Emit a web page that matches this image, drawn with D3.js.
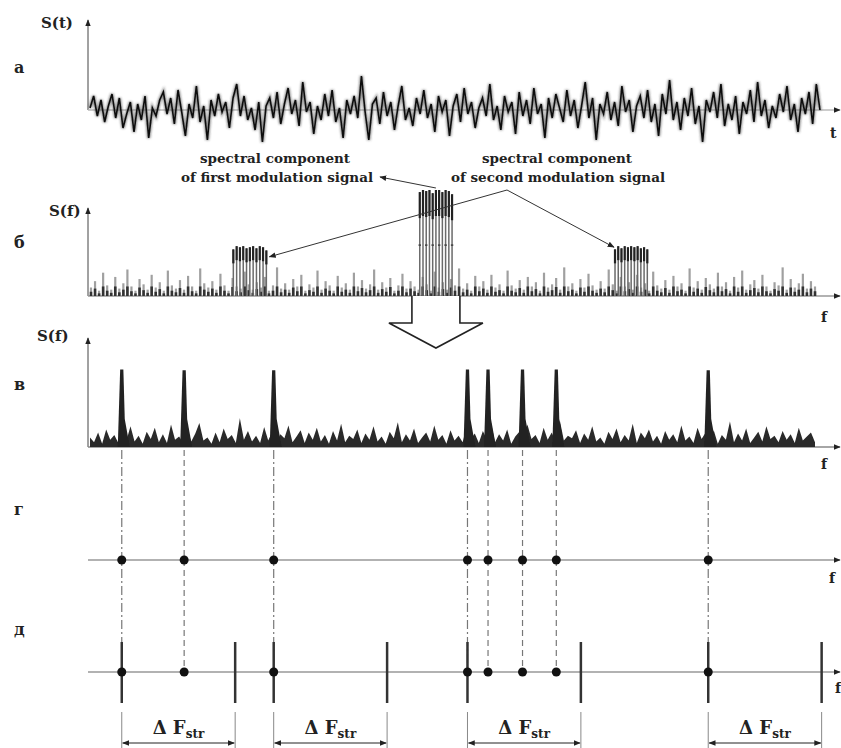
<!DOCTYPE html>
<meta charset="utf-8">
<style>
body { margin: 0; background: #fff; }
text { font-family: "DejaVu Serif", "Liberation Serif", serif; font-weight: bold; fill: #222; }
</style>
<body>
<script src="https://cdn.jsdelivr.net/npm/d3@7"></script>
<script>

// time signal S(t), panel а (px-ish units around zero)
var timeSignal = [
 2,14,-6,10,-12,4,16,-8,12,-18,-4,8,-22,6,-10,14,-28,2,-6,10,
 18,-4,12,-14,20,-2,-26,6,-8,24,-12,4,-30,10,-6,16,-2,8,-18,12,
 26,-6,14,-10,2,-20,8,-32,4,12,-8,18,-14,6,22,-4,10,-16,28,-2,
 8,-24,4,-10,16,-6,20,-12,2,-28,10,-4,14,-8,34,-2,-30,6,12,-14,
 18,-6,8,-20,4,24,-10,2,-16,12,-4,20,-8,6,-22,14,-2,10,-26,4,
 16,-12,22,-4,8,-18,2,12,-6,26,-10,4,-20,14,-2,8,-24,18,-6,10,
 -14,22,-4,6,-28,12,-8,16,2,-12,20,-6,10,-18,4,28,-8,12,-30,6,
 -4,18,-10,8,-16,24,-2,10,-22,4,14,-8,20,-12,6,-26,16,-4,30,-10,
 8,-20,12,-6,22,-14,4,-32,10,-2,18,-8,26,-16,6,-10,14,-24,8,-4,
 20,-12,28,-6,10,-18,4,-8,16,-2,24,-10,6,-22,12,-4,18,-14,26,0
];

// background spectrum, panel б
var noiseB = [
 8,14,5,22,10,6,18,7,12,25,9,5,16,11,6,20,8,13,5,24,
 10,7,15,6,19,9,5,26,12,8,14,6,21,10,5,17,9,7,23,11,
 6,13,8,18,5,10,27,7,12,6,16,9,20,5,11,8,24,6,14,10,
 5,19,8,12,6,22,9,15,7,11,25,6,13,8,17,5,10,21,7,14,
 9,6,18,11,5,23,8,13,6,16,10,26,7,12,5,19,9,14,6,20,
 8,11,5,24,10,7,15,6,18,9,13,5,22,8,11,17,6,27,9,12,
 5,16,8,21,10,6,14,7,25,11,5,18,9,13,6,20,8,12,5,23,
 10,7,15,6,19,9,12,5,26,8,14,6,17,11,7,22,9,13,5,18,
 8,24,6,11,15,7,20,9,5,13,10,27,6,16,8,12,21,7,14,9
];

// modulation signal components, panel б
var clusterStart = [19.8, 45.2, 71.8];
var clusterEnd   = [24.3, 49.6, 76.2];
var clusterBars = [
 [44,47,46,47,45,46,47,45,47,46,43],
 [98,100,99,100,97,100,100,98,100,99,96],
 [44,47,45,47,46,47,46,47,45,46,44]
];

// spectrum after processing, panel в
var noiseV = [
 12,6,18,4,22,9,15,5,20,8,26,7,14,4,19,10,24,6,16,5,
 28,9,13,5,21,7,17,30,8,12,4,18,6,23,10,15,5,36,9,20,
 7,14,5,25,8,19,4,16,11,27,6,13,21,5,18,9,24,7,15,4,
 20,8,29,6,14,10,22,5,17,9,26,7,13,4,19,11,31,6,16,8,
 23,5,12,18,7,27,9,15,4,21,8,14,6,25,10,17,5,20,9,30,
 6,16,8,22,4,13,19,7,28,10,15,5,24,9,18,6,33,8,14,11,
 21,5,17,9,26,7,12,4,19,10,23,6,15,8,29,5,18,11,22,7,
 14,4,20,9,16,6,27,8,13,5,24,10,18,7,21,4,15,9,32,6,
 17,8,23,5,12,19,7,26,10,14,6,20,9,16,5,24,8,13,18,6
];
var peakF = [4.6, 13.1, 25.3, 51.7, 54.5, 59.2, 63.8, 84.5];
var peakH = [97, 96, 96, 97, 97, 97, 97, 96];

// structure windows, panel д
var windowStart = [4.6, 25.3, 51.7, 84.5];
var windowWidth = 15.45;

var panelLetters = ["а", "б", "в", "г", "д"];

var width = 841, height = 748;

var svg = d3.select("body").append("svg")
    .attr("width", width)
    .attr("height", height);

svg.append("rect").attr("width", width).attr("height", height).attr("fill", "#fff");

var defs = svg.append("defs");
defs.append("marker")
    .attr("id", "arr")
    .attr("viewBox", "0 0 10 10")
    .attr("refX", 9).attr("refY", 5)
    .attr("markerWidth", 7).attr("markerHeight", 7)
    .attr("markerUnits", "userSpaceOnUse")
    .attr("orient", "auto-start-reverse")
  .append("path").attr("d", "M0,1 L10,5 L0,9 Z").attr("fill", "#222");
defs.append("filter").attr("id", "soft")
  .append("feGaussianBlur").attr("stdDeviation", 0.6);
defs.append("filter").attr("id", "softer")
  .append("feGaussianBlur").attr("stdDeviation", 1.1);

// scales
var xT = d3.scaleLinear().domain([0, timeSignal.length - 1]).range([90, 820]);
var yT = d3.scaleLinear().domain([-35, 35]).range([145, 75]);
var xF = d3.scaleLinear().domain([0, 100]).range([88, 822]);
var xNB = d3.scaleLinear().domain([0, noiseB.length - 1]).range([91, 815]);
var xNV = d3.scaleLinear().domain([0, noiseV.length - 1]).range([90, 815]);
var yB = d3.scaleLinear().domain([0, 100]).range([296, 190]);
var yV = d3.scaleLinear().domain([0, 100]).range([447, 367]);

var baseT = 110, baseB = yB(0), baseV = yV(0), lineG = 560, lineD = 672;

// axes helper
function vAxis(y0, y1) {
  svg.append("line").attr("x1", 88).attr("x2", 88).attr("y1", y0).attr("y2", y1)
    .attr("stroke", "#444").attr("stroke-width", 1).attr("marker-end", "url(#arr)");
}
function hAxis(y, col) {
  svg.append("line").attr("x1", 88).attr("x2", 840).attr("y1", y).attr("y2", y)
    .attr("stroke", col).attr("stroke-width", 1.5).attr("marker-end", "url(#arr)");
}

// ---- panel а ----
vAxis(baseT, 20);
hAxis(baseT, "#bbb");
var tLine = d3.line().x(function(d, i) { return xT(i); }).y(function(d) { return yT(d); });
svg.append("path").datum(timeSignal).attr("d", tLine)
  .attr("fill", "none").attr("stroke", "#444").attr("stroke-width", 3.4).attr("stroke-opacity", 0.6)
  .attr("filter", "url(#softer)");
svg.append("path").datum(timeSignal).attr("d", tLine)
  .attr("fill", "none").attr("stroke", "#111").attr("stroke-width", 1.6).attr("filter", "url(#soft)");
svg.append("text").attr("x", 41).attr("y", 28).style("font-size", "15px").text("S(t)");
svg.append("text").attr("x", 830).attr("y", 138).style("font-size", "14px").text("t");

// ---- panel б ----
vAxis(baseB, 208);
hAxis(baseB, "#999");
var gB = svg.append("g").attr("filter", "url(#soft)");
gB.selectAll(".nb").data(noiseB).enter().append("line")
  .attr("x1", function(d, i) { return xNB(i); }).attr("x2", function(d, i) { return xNB(i); })
  .attr("y1", baseB).attr("y2", function(d) { return yB(d); })
  .attr("stroke", "#a0a0a0").attr("stroke-width", 2.2);
gB.selectAll(".nbd").data(noiseB).enter().append("line")
  .attr("x1", function(d, i) { return xNB(i); }).attr("x2", function(d, i) { return xNB(i); })
  .attr("y1", baseB).attr("y2", function(d) { return yB(Math.min(d * 0.5, 9)); })
  .attr("stroke", "#333").attr("stroke-width", 2.6);

clusterBars.forEach(function(bars, c) {
  var xc = d3.scaleLinear().domain([0, bars.length - 1]).range([xF(clusterStart[c]), xF(clusterEnd[c])]);
  var g = svg.append("g").attr("filter", "url(#soft)");
  g.selectAll(".cb").data(bars).enter().append("line")
    .attr("x1", function(d, i) { return xc(i); }).attr("x2", function(d, i) { return xc(i); })
    .attr("y1", baseB).attr("y2", function(d) { return yB(d); })
    .attr("stroke", "#6a6a6a").attr("stroke-width", 1.5);
  g.selectAll(".cap").data(bars).enter().append("line")
    .attr("x1", function(d, i) { return xc(i); }).attr("x2", function(d, i) { return xc(i); })
    .attr("y1", function(d) { return yB(d) + (c === 1 ? 26 : 14); }).attr("y2", function(d) { return yB(d); })
    .attr("stroke", "#222").attr("stroke-width", 2.2);
  if (c === 1) {
    g.selectAll(".mid").data(bars.filter(function(d, i) { return i % 2 === 0; })).enter().append("line")
      .attr("x1", function(d, i) { return xc(i * 2) - 1.2; }).attr("x2", function(d, i) { return xc(i * 2) + 1.2; })
      .attr("y1", yB(48)).attr("y2", yB(48))
      .attr("stroke", "#444").attr("stroke-width", 1.6);
  }
});

svg.append("text").attr("x", 49).attr("y", 216).style("font-size", "15px").text("S(f)");
svg.append("text").attr("x", 821).attr("y", 322).style("font-size", "14px").text("f");

// annotations
var ann = svg.append("g").style("font-size", "13.5px").attr("text-anchor", "middle");
ann.append("text").attr("x", 275).attr("y", 163).text("spectral component");
ann.append("text").attr("x", 277).attr("y", 182).text("of first modulation signal");
ann.append("text").attr("x", 557).attr("y", 163).text("spectral component");
ann.append("text").attr("x", 558).attr("y", 182).text("of second modulation signal");

var mid = (clusterStart[1] + clusterEnd[1]) / 2;
svg.append("line").attr("x1", xF(mid)).attr("y1", yB(100) - 2).attr("x2", 380).attr("y2", 177)
  .attr("stroke", "#333").attr("stroke-width", 1).attr("marker-end", "url(#arr)");
svg.append("line").attr("x1", 507).attr("y1", 190).attr("x2", xF(clusterEnd[0]) + 3).attr("y2", yB(37))
  .attr("stroke", "#333").attr("stroke-width", 1).attr("marker-end", "url(#arr)");
svg.append("line").attr("x1", 507).attr("y1", 190).attr("x2", xF(clusterStart[2]) - 1).attr("y2", yB(46))
  .attr("stroke", "#333").attr("stroke-width", 1).attr("marker-end", "url(#arr)");

// big outline arrow
var ax = xF(mid);
svg.append("path")
  .attr("d", "M" + (ax - 24) + "," + baseB + " L" + (ax - 24) + ",323 L" + (ax - 47) + ",323 L" + ax + ",348 L" +
    (ax + 47) + ",323 L" + (ax + 24) + ",323 L" + (ax + 24) + "," + baseB)
  .attr("fill", "#fff").attr("stroke", "#222").attr("stroke-width", 1.6);

// ---- panel в ----
vAxis(baseV, 338);
hAxis(baseV, "#888");
var vArea = d3.area().x(function(d, i) { return xNV(i); }).y0(baseV).y1(function(d) { return yV(d); });
var gV = svg.append("g").attr("filter", "url(#soft)");
gV.append("path").datum(noiseV).attr("d", vArea).attr("fill", "#2a2a2a");
gV.selectAll(".pk").data(peakF).enter().append("path")
  .attr("d", function(d, i) {
    var x = xF(d), top = yV(peakH[i]);
    return "M" + (x - 4) + "," + baseV + " L" + (x - 1.6) + "," + top + " L" + (x + 1.6) + "," + top +
      " L" + (x + 3) + "," + yV(35) + " L" + (x + 8) + "," + baseV + " Z";
  })
  .attr("fill", "#222");
svg.append("text").attr("x", 37).attr("y", 341).style("font-size", "15px").text("S(f)");
svg.append("text").attr("x", 821).attr("y", 469).style("font-size", "14px").text("f");

// ---- panels г, д ----
hAxis(lineG, "#999");
hAxis(lineD, "#999");
svg.append("text").attr("x", 829).attr("y", 583).style("font-size", "14px").text("f");
svg.append("text").attr("x", 835).attr("y", 693).style("font-size", "14px").text("f");

var isStart = function(f) { return windowStart.indexOf(f) >= 0; };

svg.append("g").selectAll("line").data(peakF).enter().append("line")
  .attr("x1", function(d) { return xF(d); }).attr("x2", function(d) { return xF(d); })
  .attr("y1", baseV + 3).attr("y2", lineD)
  .attr("stroke", "#777").attr("stroke-width", 1.2)
  .attr("stroke-dasharray", function(d) { return isStart(d) ? "9,3,2,3" : "6,4"; });

// window edges (solid bars)
var edges = [];
windowStart.forEach(function(s) { edges.push(s, s + windowWidth); });
svg.append("g").selectAll("line").data(edges).enter().append("line")
  .attr("x1", function(d) { return xF(d); }).attr("x2", function(d) { return xF(d); })
  .attr("y1", 642).attr("y2", 703)
  .attr("stroke", "#333").attr("stroke-width", 2.5);
svg.append("g").selectAll("line").data(edges).enter().append("line")
  .attr("x1", function(d) { return xF(d); }).attr("x2", function(d) { return xF(d); })
  .attr("y1", 712).attr("y2", 748)
  .attr("stroke", "#888").attr("stroke-width", 1);

// dots
[lineG, lineD].forEach(function(y) {
  svg.append("g").selectAll("circle").data(peakF).enter().append("circle")
    .attr("cx", function(d) { return xF(d); }).attr("cy", y).attr("r", 4.5).attr("fill", "#111");
});

// ΔF_str arrows and labels
windowStart.forEach(function(s) {
  var x0 = xF(s), x1 = xF(s + windowWidth);
  svg.append("line").attr("x1", x0 + 1).attr("x2", x1 - 1).attr("y1", 743).attr("y2", 743)
    .attr("stroke", "#222").attr("stroke-width", 1)
    .attr("marker-start", "url(#arr)").attr("marker-end", "url(#arr)");
  var t = svg.append("text").attr("x", (x0 + x1) / 2).attr("y", 734).attr("text-anchor", "middle")
    .style("font-size", "18px");
  t.append("tspan").text("Δ F");
  t.append("tspan").attr("dy", 4).style("font-size", "12px").text("str");
});

// panel letters
var letterY = [73, 248, 390, 515, 635];
svg.append("g").selectAll("text").data(panelLetters).enter().append("text")
  .attr("x", 14).attr("y", function(d, i) { return letterY[i]; })
  .style("font-size", "16px").text(function(d) { return d; });

</script>
</body>
